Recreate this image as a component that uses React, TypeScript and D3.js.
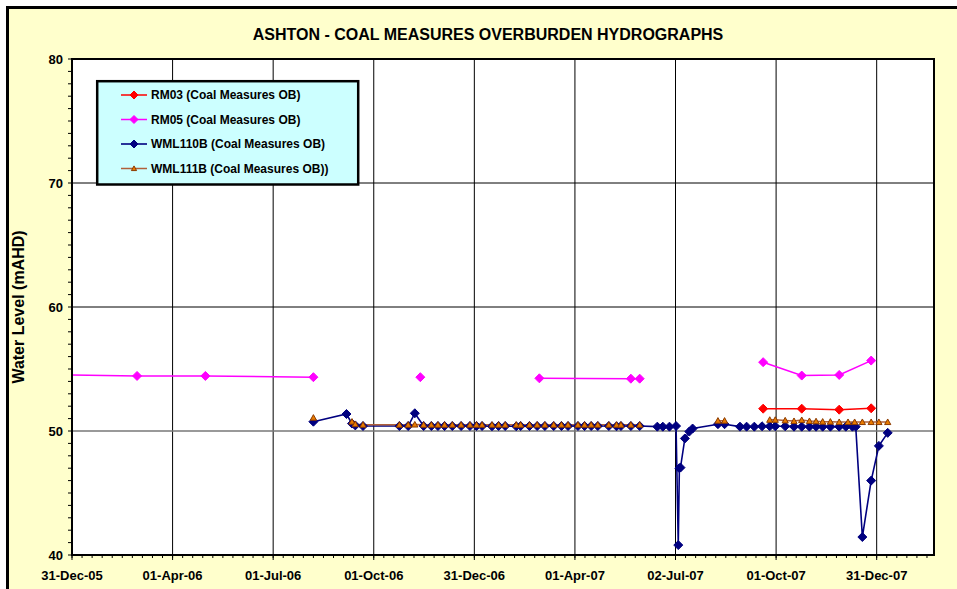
import React from "react";
import * as d3 from "d3";

// ---------- DATA ----------
const xStart = "2005-12-31";
const xSpanDays = 782;
const majorStepDays = 91.25;
const xTickLabels = [
  "31-Dec-05", "01-Apr-06", "01-Jul-06", "01-Oct-06", "31-Dec-06",
  "01-Apr-07", "02-Jul-07", "01-Oct-07", "31-Dec-07",
];
const yTicks = [40, 50, 60, 70, 80];

const rm03Dates = ["2007-09-19", "2007-10-24", "2007-11-27", "2007-12-26"];
const rm03Values = [51.8, 51.8, 51.72, 51.83];

const rm05Dates = [
  "2005-10-01", "2006-02-28", "2006-05-01", "2006-08-07", "2006-09-30",
  "2006-11-12", "2006-12-30", "2007-02-28", "2007-05-22", "2007-05-30",
  "2007-07-15", "2007-09-19", "2007-10-24", "2007-11-27", "2007-12-26",
];
const rm05Values = [
  54.62, 54.44, 54.44, 54.34, null,
  54.34, null, 54.25, 54.22, 54.22,
  null, 55.55, 54.47, 54.52, 55.68,
];

const wml110Dates = [
  "2006-08-07", "2006-09-06", "2006-09-11", "2006-09-14", "2006-09-21",
  "2006-10-24", "2006-11-01", "2006-11-07", "2006-11-15", "2006-11-22",
  "2006-11-28", "2006-12-04", "2006-12-11", "2006-12-19", "2006-12-27",
  "2007-01-02", "2007-01-07", "2007-01-16", "2007-01-22", "2007-01-28",
  "2007-02-07", "2007-02-11", "2007-02-19", "2007-02-26", "2007-03-05",
  "2007-03-13", "2007-03-20", "2007-03-26", "2007-04-04", "2007-04-10",
  "2007-04-16", "2007-04-22", "2007-05-02", "2007-05-09", "2007-05-13",
  "2007-05-22", "2007-05-30", "2007-06-15", "2007-06-20", "2007-06-26",
  "2007-07-02", "2007-07-04", "2007-07-05", "2007-07-06", "2007-07-10",
  "2007-07-14", "2007-07-17", "2007-08-09", "2007-08-15", "2007-08-29",
  "2007-09-04", "2007-09-11", "2007-09-18", "2007-09-25", "2007-09-30",
  "2007-10-09", "2007-10-17", "2007-10-24", "2007-10-31", "2007-11-06",
  "2007-11-12", "2007-11-19", "2007-11-27", "2007-12-03", "2007-12-09",
  "2007-12-12", "2007-12-18", "2007-12-26", "2008-01-02", "2008-01-10",
];
const wml110Values = [
  50.75, 51.37, 50.6, 50.45, 50.4,
  50.4, 50.4, 51.43, 50.4, 50.4,
  50.4, 50.4, 50.4, 50.4, 50.4,
  50.4, 50.4, 50.38, 50.4, 50.4,
  50.38, 50.4, 50.4, 50.4, 50.4,
  50.4, 50.4, 50.4, 50.4, 50.4,
  50.4, 50.4, 50.4, 50.38, 50.4,
  50.4, 50.4, 50.35, 50.35, 50.35,
  50.4, 40.8, 47.0, 47.05, 49.4,
  49.95, 50.2, 50.55, 50.55, 50.35,
  50.35, 50.35, 50.38, 50.38, 50.38,
  50.38, 50.35, 50.35, 50.35, 50.35,
  50.35, 50.35, 50.35, 50.35, 50.35,
  50.35, 41.45, 46.0, 48.8, 49.85,
];

const wml111Dates = [
  "2006-08-07", "2006-08-25", "2006-09-11", "2006-09-14", "2006-09-21",
  "2006-10-24", "2006-11-01", "2006-11-07", "2006-11-15", "2006-11-22",
  "2006-11-28", "2006-12-04", "2006-12-11", "2006-12-19", "2006-12-27",
  "2007-01-02", "2007-01-07", "2007-01-16", "2007-01-22", "2007-01-28",
  "2007-02-07", "2007-02-11", "2007-02-19", "2007-02-26", "2007-03-05",
  "2007-03-13", "2007-03-20", "2007-03-26", "2007-04-04", "2007-04-10",
  "2007-04-16", "2007-04-22", "2007-05-02", "2007-05-09", "2007-05-13",
  "2007-05-22", "2007-05-30", "2007-07-01", "2007-08-09", "2007-08-15",
  "2007-09-01", "2007-09-25", "2007-09-30", "2007-10-09", "2007-10-17",
  "2007-10-24", "2007-10-31", "2007-11-06", "2007-11-12", "2007-11-19",
  "2007-11-27", "2007-12-05", "2007-12-11", "2007-12-18", "2007-12-26",
  "2008-01-02", "2008-01-10",
];
const wml111Values = [
  51.07, null, 50.75, 50.55, 50.5,
  50.5, 50.5, 50.52, 50.5, 50.5,
  50.5, 50.5, 50.5, 50.5, 50.5,
  50.5, 50.5, 50.5, 50.5, 50.5,
  50.5, 50.5, 50.5, 50.5, 50.5,
  50.5, 50.5, 50.5, 50.5, 50.5,
  50.5, 50.5, 50.5, 50.5, 50.5,
  50.5, 50.5, null, 50.83, 50.83,
  null, 50.9, 50.9, 50.85, 50.8,
  50.88, 50.8, 50.78, 50.75, 50.75,
  50.72, 50.72, 50.72, 50.72, 50.72,
  50.72, 50.72,
];

const legendLabels = [
  "RM03 (Coal Measures OB)",
  "RM05 (Coal Measures OB)",
  "WML110B (Coal Measures OB)",
  "WML111B (Coal Measures OB))",
];

// ---------- LAYOUT ----------
const W = 957;
const H = 589;
const plot = { left: 72, top: 59, right: 934, bottom: 555 };
const FONT = "'Liberation Sans', Arial, Helvetica, sans-serif";

const parse = d3.timeParse("%Y-%m-%d");

type Pt = { d: Date; v: number | null };
const zip = (ds: string[], vs: (number | null)[]): Pt[] =>
  ds.map((s, i) => ({ d: parse(s) as Date, v: vs[i] }));

const series = [
  { key: "rm03", pts: zip(rm03Dates, rm03Values), line: "#FF0000", lw: 1.5, marker: "diamond", fill: "#FF0000", stroke: "#FF0000", size: 4.5 },
  { key: "rm05", pts: zip(rm05Dates, rm05Values), line: "#FF00FF", lw: 1.5, marker: "diamond", fill: "#FF00FF", stroke: "#FF00FF", size: 4.5 },
  { key: "wml110", pts: zip(wml110Dates, wml110Values), line: "#000080", lw: 1.6, marker: "diamond", fill: "#000080", stroke: "#000080", size: 4.5 },
  { key: "wml111", pts: zip(wml111Dates, wml111Values), line: "#B0603A", lw: 1.5, marker: "triangle", fill: "#E87A00", stroke: "#8A3A00", size: 3.1 },
];

function Marker({ type, x, y, fill, stroke, size }: any) {
  if (type === "diamond") {
    const p = `M${x},${y - size}L${x + size},${y}L${x},${y + size}L${x - size},${y}Z`;
    return <path d={p} fill={fill} stroke={stroke} strokeWidth={1} />;
  }
  const p = `M${x},${y - size}L${x + size},${y + size * 0.8}L${x - size},${y + size * 0.8}Z`;
  return <path d={p} fill={fill} stroke={stroke} strokeWidth={1} />;
}

export default function App() {
  const start = parse(xStart) as Date;
  const end = new Date(start.getTime() + xSpanDays * 864e5);
  const x = d3.scaleTime().domain([start, end]).range([plot.left, plot.right]);
  const y = d3.scaleLinear().domain([40, 80]).range([plot.bottom, plot.top]);

  const majorX = xTickLabels.map((_, i) => new Date(start.getTime() + i * majorStepDays * 864e5));
  const minorX: Date[] = [];
  for (let t = 0; t <= xSpanDays; t += majorStepDays / 10) {
    minorX.push(new Date(start.getTime() + t * 864e5));
  }
  const minorY = d3.range(40, 81, 1);

  const line = d3
    .line<Pt>()
    .defined((p) => p.v !== null)
    .x((p) => x(p.d))
    .y((p) => y(p.v as number));

  const inDomain = (p: Pt) => p.v !== null && p.d >= start && p.d <= end;

  const legendRows = [95, 119.5, 144, 168.5];

  return (
    <svg
      width={W}
      height={H}
      style={{ position: "absolute", left: 0, top: 0, fontFamily: FONT }}
    >
      <defs>
        <clipPath id="plotclip">
          <rect x={plot.left} y={plot.top} width={plot.right - plot.left} height={plot.bottom - plot.top} />
        </clipPath>
      </defs>
      <rect x={7.5} y={7.5} width={970} height={610} fill="#FFFFCC" stroke="#000" strokeWidth={3} />
      <rect x={plot.left} y={plot.top} width={plot.right - plot.left} height={plot.bottom - plot.top} fill="#FFFFFF" />

      {/* grid lines */}
      {majorX.slice(1).map((d, i) => (
        <line key={"gx" + i} x1={x(d)} x2={x(d)} y1={plot.top} y2={plot.bottom} stroke="#000" strokeWidth={1} />
      ))}
      {yTicks.slice(1, -1).map((v) => (
        <line key={"gy" + v} x1={plot.left} x2={plot.right} y1={y(v)} y2={y(v)} stroke={v === 50 ? "#777" : "#000"} strokeWidth={v === 50 ? 1.6 : 1} />
      ))}

      {/* title */}
      <text x={488} y={40} textAnchor="middle" fontSize={16} fontWeight="bold" fill="#000">
        ASHTON - COAL MEASURES OVERBURDEN HYDROGRAPHS
      </text>
      <text
        transform={`translate(24,${(plot.top + plot.bottom) / 2}) rotate(-90)`}
        textAnchor="middle"
        fontSize={16}
        fontWeight="bold"
        fill="#000"
      >
        Water Level (mAHD)
      </text>

      {/* series */}
      <g clipPath="url(#plotclip)">
        {series.map((s) => (
          <path key={s.key} d={line(s.pts) || ""} fill="none" stroke={s.line} strokeWidth={s.lw} />
        ))}
      </g>
      {series.map((s) => (
        <g key={s.key + "m"}>
          {s.pts.filter(inDomain).map((p, i) => (
            <Marker key={i} type={s.marker} x={x(p.d)} y={y(p.v as number)} fill={s.fill} stroke={s.stroke} size={s.size} />
          ))}
        </g>
      ))}

      {/* plot border */}
      <rect x={plot.left} y={plot.top} width={plot.right - plot.left} height={plot.bottom - plot.top} fill="none" stroke="#000" strokeWidth={2} />

      {/* y axis ticks */}
      {minorY.map((v) => (
        <line key={"my" + v} x1={plot.left - 4} x2={plot.left} y1={y(v)} y2={y(v)} stroke="#000" strokeWidth={1} />
      ))}
      {yTicks.map((v) => (
        <text key={"ty" + v} x={plot.left - 9} y={y(v)} dy="0.35em" textAnchor="end" fontSize={13} fontWeight="bold" fill="#000">
          {v}
        </text>
      ))}

      {/* x axis ticks */}
      {minorX.map((d, i) => (
        <line key={"mx" + i} x1={x(d)} x2={x(d)} y1={plot.bottom} y2={plot.bottom + 3} stroke="#000" strokeWidth={1} />
      ))}
      {majorX.map((d, i) => (
        <line key={"Mx" + i} x1={x(d)} x2={x(d)} y1={plot.bottom} y2={plot.bottom + 5} stroke="#000" strokeWidth={1} />
      ))}
      {majorX.map((d, i) => (
        <text key={"tx" + i} x={x(d)} y={580} textAnchor="middle" fontSize={13} fontWeight="bold" fill="#000">
          {xTickLabels[i]}
        </text>
      ))}

      {/* legend */}
      <rect x={97.2} y={81.2} width={261} height={103.3} fill="#CCFFFF" stroke="#000" strokeWidth={2.5} />
      {legendLabels.map((lab, i) => {
        const s = series[i];
        const ly = legendRows[i];
        return (
          <g key={"lg" + i}>
            <line x1={121} x2={147} y1={ly} y2={ly} stroke={s.line} strokeWidth={s.lw} />
            <Marker type={s.marker} x={134} y={ly} fill={s.fill} stroke={s.stroke} size={s.size - 0.5} />
            <text x={151} y={ly} dy="0.35em" fontSize={12} fontWeight="bold" fill="#000">
              {lab}
            </text>
          </g>
        );
      })}
    </svg>
  );
}
